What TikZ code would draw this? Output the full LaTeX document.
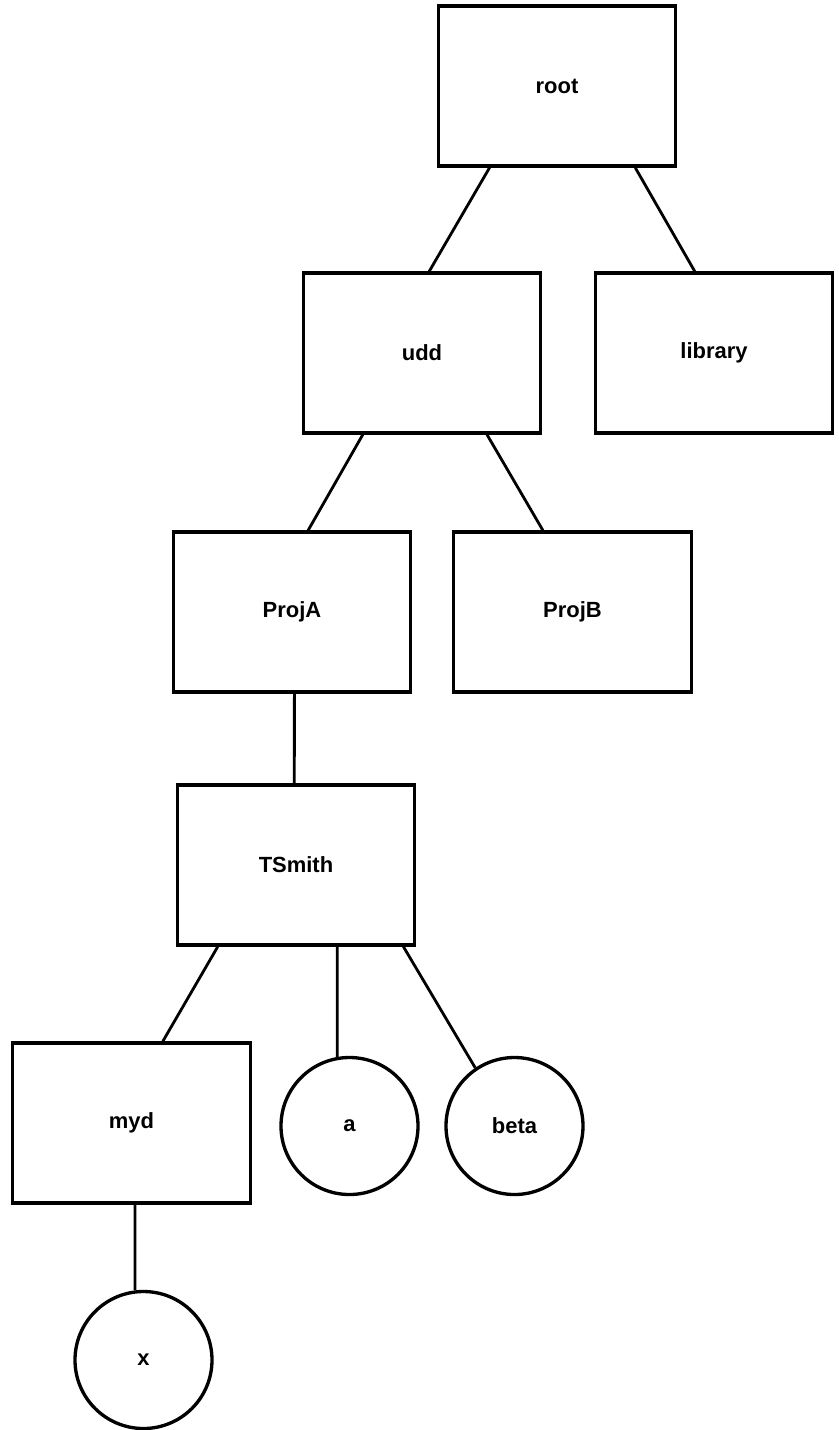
\documentclass[tikz,border=0pt]{standalone}
\usepackage{fontspec}
\setsansfont{Liberation Sans}
\usetikzlibrary{positioning,calc}

\begin{document}
\begin{tikzpicture}[node distance=5cm,on grid,
      dir/.style={draw,rectangle,line width=1.9pt,minimum width=4.75cm,minimum height=3.2cm,
        font=\sffamily\bfseries\fontsize{12.5}{15}\selectfont},
      file/.style={draw,circle,line width=1.9pt,minimum size=2.74cm,inner sep=0pt,
        font=\sffamily\bfseries\fontsize{12.5}{15}\selectfont},
      link/.style={line width=1.6pt}]
			\useasboundingbox (0,0) rectangle (16.76,-28.6);
			\node[dir] (root) at (11.14,-1.72) {root};
			\node[dir] (udd) [below left=5.34cm and 2.7cm of root] {udd};
			\node[dir] (library) [right=5.84cm of udd] {library};
			\node[dir] (ProjA) [below left=5.18cm and 2.6cm of udd] {ProjA};
			\node[dir] (ProjB) [right=5.61cm of ProjA] {ProjB};
			\node[dir] (TSmith) [below=5.06cm of ProjA,xshift=0.08cm] {TSmith};
			\node[dir] (myd) [below left=5.16cm and 3.29cm of TSmith] {myd};
			\node[file] (a) [below right=5.22cm and 1.07cm of TSmith] {a};
			\node[file] (beta) [right=3.3cm of a] {beta};
			\node[file] (x) [below=4.74cm of myd,xshift=0.24cm] {x};
			\draw[link]
				($(root.south west)!0.22!(root.south east)$) -- ($(udd.north west)!0.53!(udd.north east)$)
				($(root.south west)!0.825!(root.south east)$) -- ($(library.north west)!0.42!(library.north east)$)
				($(udd.south west)!0.254!(udd.south east)$) -- ($(ProjA.north west)!0.567!(ProjA.north east)$)
				($(udd.south west)!0.77!(udd.south east)$) -- ($(ProjB.north west)!0.377!(ProjB.north east)$)
				($(ProjA.south west)!0.51!(ProjA.south east)$) -- ($(TSmith.north west)!0.493!(TSmith.north east)$)
				($(TSmith.south west)!0.175!(TSmith.south east)$) -- ($(myd.north west)!0.63!(myd.north east)$)
				(a.100) -- (a.100 |- TSmith.south)
				($(TSmith.south west)!0.946!(TSmith.south east)$) -- (beta.124)
				(x.97) -- (x.97 |- myd.south);
		\end{tikzpicture}
\end{document}
